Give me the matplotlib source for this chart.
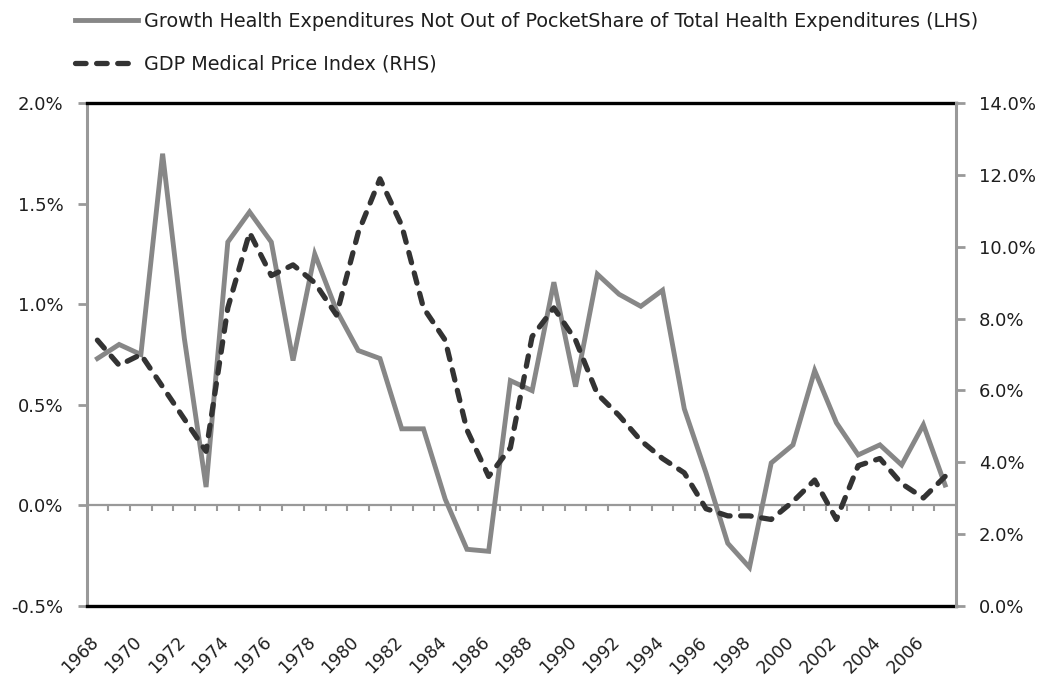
import matplotlib
matplotlib.use("Agg")
import matplotlib.pyplot as plt
from matplotlib.ticker import FuncFormatter
from matplotlib.transforms import ScaledTranslation

# data
years = list(range(1968, 2008))

# growth of non out-of-pocket share of total health expenditures, % (LHS)
share_growth = [0.73, 0.80, 0.75, 1.75, 0.83, 0.09, 1.31, 1.46, 1.31, 0.72,
                1.25, 0.97, 0.77, 0.73, 0.38, 0.38, 0.03, -0.22, -0.23, 0.62,
                0.57, 1.11, 0.59, 1.15, 1.05, 0.99, 1.07, 0.48, 0.16, -0.19,
                -0.31, 0.21, 0.30, 0.67, 0.41, 0.25, 0.30, 0.20, 0.40, 0.10]

# GDP medical price index, % (RHS)
price_index = [7.4, 6.7, 7.0, 6.1, 5.2, 4.3, 8.3, 10.4, 9.2, 9.5,
               9.0, 8.1, 10.4, 11.9, 10.6, 8.3, 7.4, 4.9, 3.6, 4.4,
               7.5, 8.3, 7.4, 5.9, 5.3, 4.6, 4.1, 3.7, 2.7, 2.5,
               2.5, 2.4, 2.9, 3.5, 2.4, 3.9, 4.1, 3.4, 3.0, 3.6]

lhs_ticks = [-0.5, 0.0, 0.5, 1.0, 1.5, 2.0]
rhs_ticks = [0, 2, 4, 6, 8, 10, 12, 14]
label_years = years[::2]

label_lhs = "Growth Health Expenditures Not Out of PocketShare of Total Health Expenditures (LHS)"
label_rhs = "GDP Medical Price Index (RHS)"

grey = "#878787"
axis_grey = "#999999"
dark = "#333333"
txt = "#1e1e1e"

fig = plt.figure(figsize=(10.54, 6.79), dpi=100)
ax = fig.add_axes([0.0821, 0.1082, 0.8249, 0.7394])
ax2 = ax.twinx()

x = list(range(len(years)))

l1, = ax.plot(x, share_growth, color=grey, lw=3.5, solid_joinstyle="miter",
              label=label_lhs, zorder=3)
l2, = ax2.plot(x, price_index, color=dark, lw=3.8, dashes=(2.0, 2.0),
               dash_capstyle="round", label=label_rhs, zorder=3)

# zero line with small category tick marks
ax.axhline(0, color=axis_grey, lw=1.6, zorder=2)
bounds = [i + 0.5 for i in range(len(years) - 1)]
ax.plot(bounds, [0] * len(bounds), linestyle="none", marker=3,
        markersize=4.5, mew=1.5, color=axis_grey, zorder=2)

ax.set_xlim(-0.5, len(years) - 0.5)
ax.set_ylim(-0.5, 2.0)
ax2.set_ylim(0, 14)

ax.set_yticks(lhs_ticks)
ax2.set_yticks(rhs_ticks)
ax.yaxis.set_major_formatter(FuncFormatter(lambda v, p: f"{v:.1f}%"))
ax2.yaxis.set_major_formatter(FuncFormatter(lambda v, p: f"{v:.1f}%"))

ax.set_xticks(list(range(0, len(years), 2)))
ax.set_xticklabels([str(y) for y in label_years], rotation=45, ha="right",
                   va="top", rotation_mode="anchor", fontsize=12.5, color=txt)
ax.tick_params(axis="x", length=0, pad=20)
shift = ScaledTranslation(-6 / 72, 0, fig.dpi_scale_trans)
for lbl in ax.get_xticklabels():
    lbl.set_transform(lbl.get_transform() + shift)

ax.tick_params(axis="y", direction="out", length=6.5, width=2, color=axis_grey,
               labelsize=13, labelcolor=txt, pad=10)
ax2.tick_params(axis="y", direction="out", length=6.5, width=2, color=axis_grey,
                labelsize=13, labelcolor=txt, pad=10)

for a in (ax, ax2):
    a.spines["left"].set_color(axis_grey)
    a.spines["right"].set_color(axis_grey)
    a.spines["left"].set_linewidth(2.2)
    a.spines["right"].set_linewidth(2.2)
    a.spines["top"].set_color("black")
    a.spines["bottom"].set_color("black")
    a.spines["top"].set_linewidth(2.4)
    a.spines["bottom"].set_linewidth(2.4)
ax2.spines["top"].set_visible(False)
ax2.spines["bottom"].set_visible(False)
ax2.spines["left"].set_visible(False)
ax.spines["right"].set_visible(False)

fig.legend(handles=[l1, l2], loc="upper left",
           bbox_to_anchor=(75 / 1054, 1 - 12 / 679), frameon=False,
           fontsize=13.8, handlelength=3.3, handletextpad=0.3,
           labelspacing=1.25, borderpad=0, borderaxespad=0, labelcolor=txt)

fig.savefig("out.png", dpi=100)
